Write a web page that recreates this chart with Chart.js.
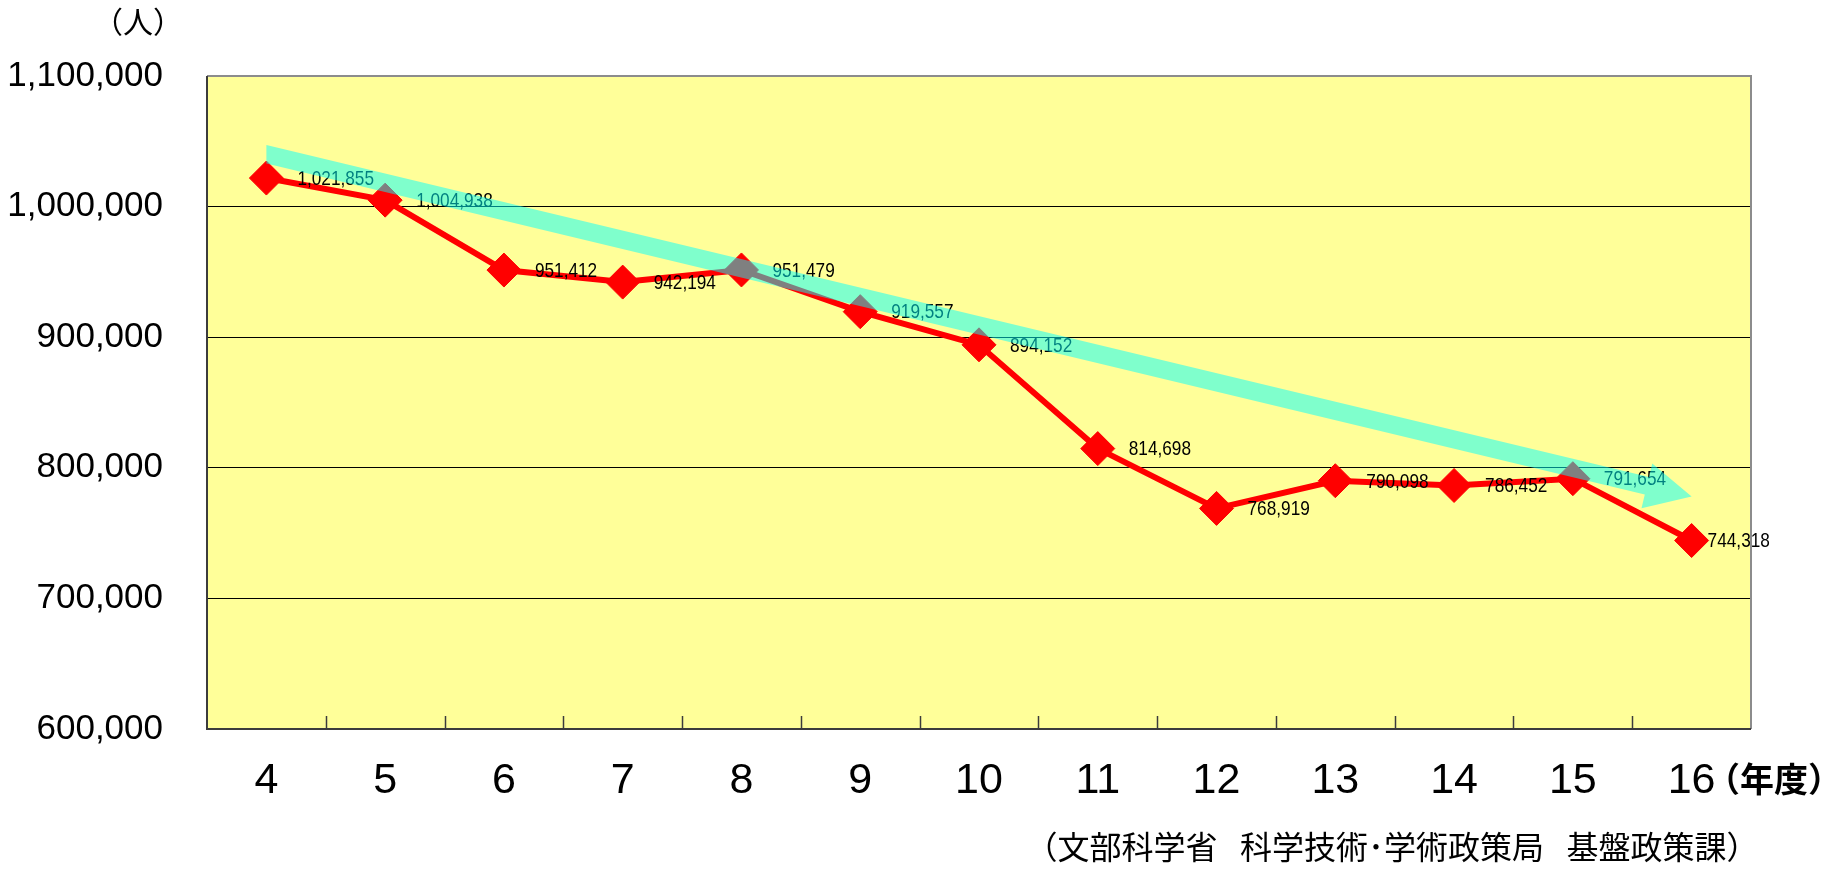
<!DOCTYPE html>
<html>
<head>
<meta charset="utf-8">
<script src="https://cdn.jsdelivr.net/npm/chart.js@4.4.1/dist/chart.umd.min.js"></script>
<style>
  html, body { margin: 0; padding: 0; background: #ffffff; }
  #wrap { width: 1827px; height: 870px; position: relative; }
</style>
</head>
<body>
<div id="wrap"><canvas id="chart" width="1827" height="870"></canvas></div>
<script>
// 年度 (fiscal years, Heisei)
const years = ['4', '5', '6', '7', '8', '9', '10', '11', '12', '13', '14', '15', '16'];
// 人数 per year
const students = [1021855, 1004938, 951412, 942194, 951479, 919557, 894152, 814698, 768919, 790098, 786452, 791654, 744318];
// y-axis ticks
const yTicks = [600000, 700000, 800000, 900000, 1000000, 1100000];
// trend arrow: value at the first year and at the last year
const trendValues = [1040000, 778000];

const CJK = '"Noto Sans CJK JP", "Noto Sans", sans-serif';
const LATIN = '"Liberation Sans", Arial, sans-serif';

const fmt = v => Number(v).toLocaleString('en-US');

// yellow plot background
const plotBackground = {
  id: 'plotBackground',
  beforeDraw(chart) {
    const { ctx, chartArea: a } = chart;
    ctx.save();
    ctx.fillStyle = '#ffff99';
    ctx.fillRect(a.left, a.top, a.right - a.left, a.bottom - a.top);
    ctx.restore();
  }
};

// plot frame and inward category tick marks
const plotFrame = {
  id: 'plotFrame',
  beforeDatasetsDraw(chart) {
    const { ctx, chartArea: a, scales: { x } } = chart;
    ctx.save();
    ctx.lineWidth = 2;
    ctx.strokeStyle = '#8c8c8c';
    ctx.beginPath();
    ctx.moveTo(a.left, a.top); ctx.lineTo(a.right, a.top); ctx.lineTo(a.right, a.bottom);
    ctx.stroke();
    ctx.strokeStyle = '#3c3c3c';
    ctx.beginPath();
    ctx.moveTo(a.left, a.top); ctx.lineTo(a.left, a.bottom); ctx.lineTo(a.right, a.bottom);
    ctx.stroke();
    ctx.lineWidth = 1.5;
    for (let i = 1; i < years.length; i++) {
      const px = Math.round((x.getPixelForValue(i - 1) + x.getPixelForValue(i)) / 2) + 0.5;
      ctx.beginPath();
      ctx.moveTo(px, a.bottom);
      ctx.lineTo(px, a.bottom - 13);
      ctx.stroke();
    }
    ctx.restore();
  }
};

// value labels beside each marker (tall, narrow figures)
const valueLabels = {
  id: 'valueLabels',
  afterDatasetsDraw(chart) {
    const { ctx } = chart;
    const meta = chart.getDatasetMeta(0);
    const squeeze = 0.82;
    ctx.save();
    ctx.font = '21px ' + LATIN;
    ctx.fillStyle = '#000000';
    ctx.textAlign = 'left';
    ctx.textBaseline = 'middle';
    meta.data.forEach((pt, i) => {
      const dx = i === meta.data.length - 1 ? 16 : 31;
      ctx.save();
      ctx.translate(pt.x + dx, pt.y + 1);
      ctx.scale(squeeze, 1);
      ctx.fillText(fmt(students[i]), 0, 0);
      ctx.restore();
    });
    ctx.restore();
  }
};

// translucent trend arrow laid over the series
const trendArrow = {
  id: 'trendArrow',
  afterDatasetsDraw(chart) {
    const { ctx, scales: { x, y } } = chart;
    const x0 = x.getPixelForValue(0), y0 = y.getPixelForValue(trendValues[0]);
    const x1 = x.getPixelForValue(years.length - 1), y1 = y.getPixelForValue(trendValues[1]);
    const a = Math.atan2(y1 - y0, x1 - x0);
    const ux = Math.cos(a), uy = Math.sin(a);
    const nx = -uy, ny = ux;
    const half = 9, headLen = 46, headHalf = 23;
    const bx = x1 - ux * headLen, by = y1 - uy * headLen;
    const hv = half / Math.cos(a);
    ctx.save();
    ctx.fillStyle = 'rgba(0, 255, 255, 0.5)';
    ctx.beginPath();
    ctx.moveTo(x0, y0 - hv);
    ctx.lineTo(bx - nx * half, by - ny * half);
    ctx.lineTo(bx - nx * headHalf, by - ny * headHalf);
    ctx.lineTo(x1, y1);
    ctx.lineTo(bx + nx * headHalf, by + ny * headHalf);
    ctx.lineTo(bx + nx * half, by + ny * half);
    ctx.lineTo(x0, y0 + hv);
    ctx.closePath();
    ctx.fill();
    ctx.restore();
  }
};

// unit captions and source note
const captions = {
  id: 'captions',
  afterDraw(chart) {
    const { ctx } = chart;
    ctx.save();
    ctx.fillStyle = '#000000';
    ctx.textBaseline = 'middle';
    ctx.textAlign = 'center';
    ctx.font = '30px ' + CJK;
    ctx.fillText('（人）', 138, 22);
    ctx.font = 'bold 34px ' + CJK;
    ctx.fillText('（年度）', 1774, 779);
    ctx.font = '32px ' + CJK;
    ctx.fillText('（文部科学省\u2002\u2009科学技術･学術政策局\u2002\u2009基盤政策課）', 1392, 847);
    ctx.restore();
  }
};

new Chart(document.getElementById('chart'), {
  type: 'line',
  data: {
    labels: years,
    datasets: [{
      data: students,
      borderColor: '#ff0000',
      backgroundColor: '#ff0000',
      borderWidth: 6,
      pointStyle: 'rectRot',
      pointRadius: 17,
      pointHoverRadius: 17,
      pointBorderWidth: 1,
      pointBorderColor: '#ff0000',
      tension: 0,
      clip: false
    }]
  },
  options: {
    responsive: false,
    animation: false,
    events: [],
    layout: { padding: { top: 76, right: 76, bottom: 0, left: 0 } },
    plugins: { legend: { display: false }, tooltip: { enabled: false } },
    scales: {
      x: {
        offset: true,
        grid: { display: false, drawTicks: false },
        border: { display: false },
        ticks: { color: '#000000', font: { family: LATIN, size: 43 }, padding: 26, maxRotation: 0, autoSkip: false },
        afterFit(s) { s.height = 141; }
      },
      y: {
        min: 600000,
        max: 1100000,
        afterBuildTicks(s) { s.ticks = yTicks.map(v => ({ value: v })); },
        grid: { color: '#000000', lineWidth: 1, drawTicks: false },
        border: { display: false },
        ticks: { color: '#000000', font: { family: LATIN, size: 35 }, padding: 44, callback: v => fmt(v) },
        afterFit(s) { s.width = 207; }
      }
    }
  },
  plugins: [plotBackground, plotFrame, valueLabels, trendArrow, captions]
});
</script>
</body>
</html>
